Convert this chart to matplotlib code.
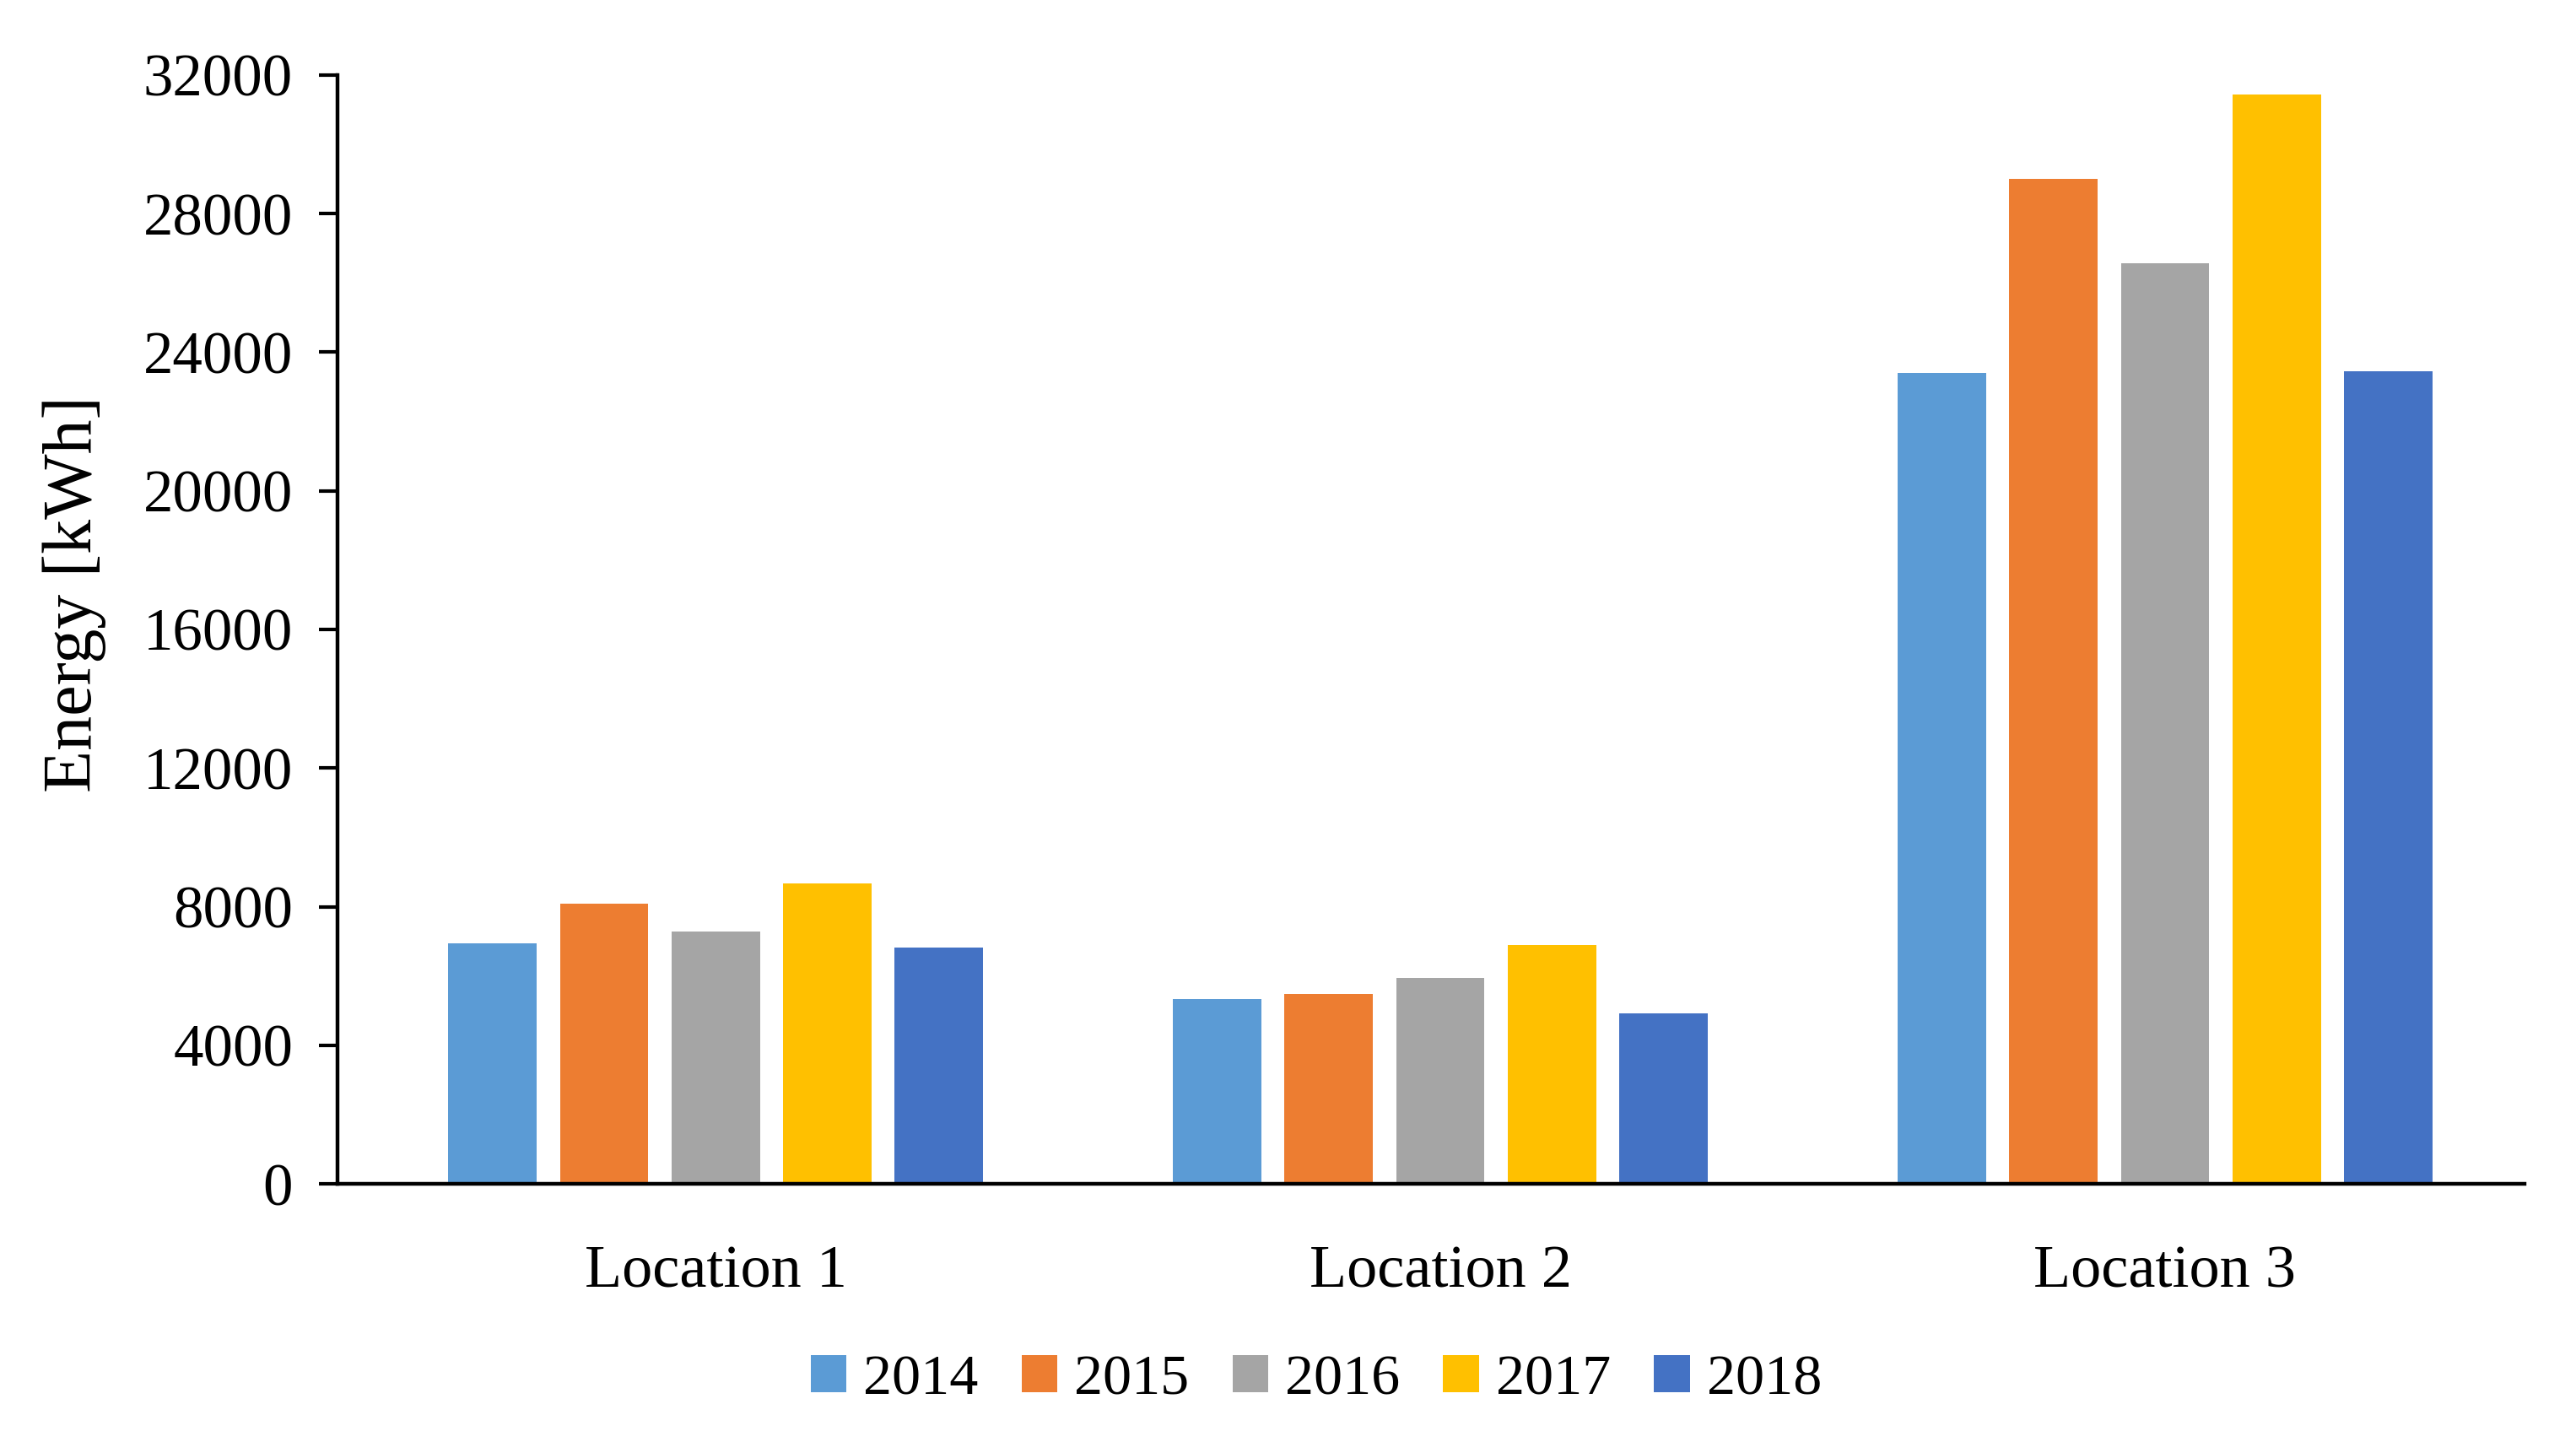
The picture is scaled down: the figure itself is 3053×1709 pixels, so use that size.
import matplotlib.pyplot as plt
import numpy as np

plt.rcParams['font.family'] = ['Liberation Serif', 'DejaVu Serif']

locations = ["Location 1", "Location 2", "Location 3"]
years = ["2014", "2015", "2016", "2017", "2018"]
energy_2014 = [6950, 5330, 23400]
energy_2015 = [8080, 5480, 29000]
energy_2016 = [7280, 5940, 26570]
energy_2017 = [8670, 6890, 31440]
energy_2018 = [6820, 4920, 23450]
series = [energy_2014, energy_2015, energy_2016, energy_2017, energy_2018]
colors = ["#5B9BD5", "#ED7D31", "#A5A5A5", "#FFC000", "#4472C4"]
y_ticks = [0, 4000, 8000, 12000, 16000, 20000, 24000, 28000, 32000]

fig = plt.figure(figsize=(30.53, 17.09), dpi=100)
ax = fig.add_axes([0.131, 0.179, 0.849, 0.769])

x = np.arange(len(locations))
pitch = 0.154
width = 0.122
for i, (yr, vals) in enumerate(zip(years, series)):
    ax.bar(x + (i - 2) * pitch, vals, width, color=colors[i], label=yr)

ax.set_xlim(-0.522, 2.496)
ax.set_ylim(0, 32000)
ax.set_yticks(y_ticks)
ax.set_yticklabels([str(t) for t in y_ticks], fontsize=51)
ax.set_xticks(x)
ax.set_xticklabels(locations, fontsize=52)
ax.tick_params(axis='x', length=0, pad=52)
ax.tick_params(axis='y', length=16, width=3, pad=22)
for side in ("top", "right"):
    ax.spines[side].set_visible(False)
for side in ("left", "bottom"):
    ax.spines[side].set_linewidth(3.2)

fig.text(0.029, 0.588, "Energy [kWh]", rotation=90, fontsize=59,
         ha='center', va='center')

fig.legend(loc='center', bbox_to_anchor=(0.511, 0.043), ncol=5,
           frameon=False, fontsize=49, handlelength=0.62, handleheight=0.62,
           handletextpad=0.3, columnspacing=0.75)

fig.savefig("out.png", dpi=100)
